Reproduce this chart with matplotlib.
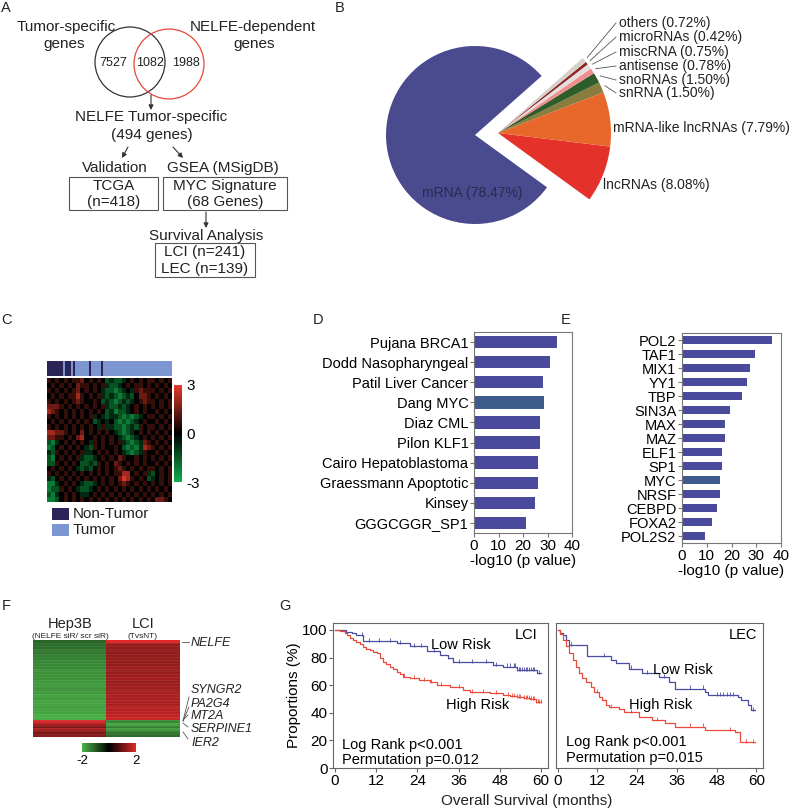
import numpy as np
import matplotlib.pyplot as plt
from matplotlib.colors import LinearSegmentedColormap, ListedColormap
from matplotlib.patches import Circle, Rectangle, Wedge

plt.rcParams['font.family'] = ['Liberation Sans', 'DejaVu Sans']

W, H = 800, 811

# A: gene selection flow
venn_counts = [7527, 1082, 1988]
n_nelfe_tumor = 494
n_tcga = 418
n_myc_genes = 68
n_lci = 241
n_lec = 139

# B: RNA classes, counter-clockwise from the lower edge of the cut-out
rna_names = ["lncRNAs", "mRNA-like lncRNAs", "snRNA", "snoRNAs", "antisense",
             "miscRNA", "microRNAs", "others", "mRNA"]
rna_pct = [8.08, 7.79, 1.50, 1.50, 0.78, 0.75, 0.42, 0.72, 78.47]
rna_colors = ["#e4322b", "#e8682c", "#8a7c3c", "#2f5c2b", "#f08d8d",
              "#e4dede", "#8c2222", "#d6d0cb", "#4a4a8e"]

# C: expression heatmap, digits 0..8 -> -3..3
heat_rows = [
    "54545 45564 54542 32234 54545 54545",
    "45454 54655 45453 22345 45545 45454",
    "54545 45645 45432 21234 35655 54545",
    "45454 55754 54532 32123 24665 45454",
    "54545 45654 45423 21232 34565 54545",
    "66654 54545 45453 22323 45454 54545",
    "76545 45454 54542 31223 45454 45454",
    "54545 45454 53432 33212 12345 54545",
    "45454 54545 42343 42121 23454 45454",
    "54545 45454 54353 32212 32545 54545",
    "77665 45464 54545 43212 34545 45454",
    "66554 54674 45454 54321 23454 54545",
    "21345 45454 35454 54532 12365 45454",
    "12454 54543 25454 45421 21376 54545",
    "32545 45453 34545 45432 12354 45454",
    "21454 54532 23454 54654 45454 54545",
    "22545 45422 32545 46545 45454 45454",
    "45454 54323 24545 45654 54545 54545",
    "54545 45454 54545 45577 45453 24545",
    "32454 54545 45454 54687 54542 34545",
    "11345 45432 23454 54565 45454 54545",
    "12254 54322 34545 45454 54545 45454",
    "21345 45433 45454 54545 45454 54545",
    "11245 45454 54545 45454 54545 46654",
]
sample_groups = "NNNNNNNNTNNNTN" + "T" * 7 + "N" + "T" * 5 + "N" + "T" * 34

# D: GSEA gene sets
gsea_sets = ["Pujana BRCA1", "Dodd Nasopharyngeal", "Patil Liver Cancer", "Dang MYC",
             "Diaz CML", "Pilon KLF1", "Cairo Hepatoblastoma", "Graessmann Apoptotic",
             "Kinsey", "GGGCGGR_SP1"]
gsea_vals = [34, 31, 28.2, 28.5, 27, 27, 26, 26, 25, 21.2]

# E: transcription factors
tf_names = ["POL2", "TAF1", "MIX1", "YY1", "TBP", "SIN3A", "MAX", "MAZ", "ELF1",
            "SP1", "MYC", "NRSF", "CEBPD", "FOXA2", "POL2S2"]
tf_vals = [36.3, 29.4, 27.4, 26.3, 24.2, 19.2, 17.2, 17.2, 16.2, 16.2, 15.3, 15.3,
           14.2, 12.2, 9.2]

# F: fold-change heatmap
hep3b_vals = [-1.1, -1.2, -1.2, -1.3, -1.3, -1.4, -1.4, -1.5, -1.5, -1.5,
              -1.6, -1.6, -1.6, -1.6, -1.7, -1.7, -1.7, -1.6, -1.7, -1.8,
              -1.7, -1.8, -1.8, -1.7, -1.8, -1.8, -1.9, -1.9,
              1.9, 1.5, 1.1, 1.5, 1.1, 1.2]
lci_fc_vals = [2.1, 1.35, 1.3, 1.3, 1.3, 1.3, 1.35, 1.35, 1.3, 1.4,
               1.4, 1.35, 1.4, 1.45, 1.4, 1.4, 1.45, 1.4, 1.5, 1.5,
               1.5, 1.55, 1.5, 1.6, 1.6, 1.65, 1.7, 1.8,
               -1.5, -1.8, -1.4, -1.7, -1.3, -1.2]

# G: Kaplan-Meier curves (event times, survival after event)
lci_low_t = [0, 3.4, 5, 6.3, 8.3, 18, 22, 26.7, 30.6, 33, 34.5, 46, 49, 53, 58.8]
lci_low_s = [100, 98.8, 97.5, 96, 92, 90.5, 88, 84.5, 82, 79.5, 76.5, 74.5, 73.5, 71, 68.5]
lci_low_cens = [8, 10, 13, 16, 19, 23, 25, 29, 33, 36, 40, 44, 47, 50, 51, 52, 52.5, 53,
                53.5, 54, 54.5, 55, 55.5, 56, 56.5, 57, 57.5, 58, 59.5]
lci_high_t = [0, 1.5, 2.9, 3.6, 4.4, 5.3, 6.3, 7.3, 8.3, 9.2, 10.2, 11.2, 12.2, 13.1,
              14.1, 15, 16, 17, 18, 19, 19.9, 21.9, 24.5, 27.7, 29.6, 33.5, 37.4, 39.4,
              45.2, 49, 51, 53, 55, 56.9, 58.5]
lci_high_s = [100, 99, 97.6, 96, 94, 93, 91.5, 89.5, 87.9, 86.5, 85.5, 84, 83, 80, 77,
              75, 73.4, 71.5, 69.8, 68, 66.2, 65, 64, 62.5, 60.1, 58.9, 56.5, 55.3, 54.1,
              52.9, 52, 51.2, 50.5, 49.8, 48]
lci_high_cens = [20, 23, 26, 28, 31, 36, 40, 43, 47, 50.5, 51.5, 52, 53, 53.5, 54, 55,
                 55.5, 56, 56.5, 57, 57.5, 58, 58.5, 59, 59.5, 60]
lec_low_t = [0, 0.7, 1.5, 2.5, 3.5, 9, 16, 17.5, 21.5, 25.5, 30.5, 33.5, 35.5, 44.5,
             45.5, 54.5, 55.5, 57.5, 58.5]
lec_low_s = [100, 98, 96, 93, 89, 81, 78, 76, 72, 68.5, 66, 62.5, 57.5, 55, 53, 51.5,
             49, 45.5, 42]
lec_low_cens = [4, 14, 22, 27, 32, 40, 44, 48, 49, 50, 51, 52, 53, 59]
lec_high_t = [0, 0.7, 1.5, 2.5, 3.5, 4.5, 5.5, 6.5, 7.5, 8.5, 10, 11, 12.5, 13.5, 14.5,
              15.5, 18.5, 20, 24.5, 28.5, 32.5, 35.5, 44.5, 53.5, 55]
lec_high_s = [100, 97, 93, 88, 83, 78.3, 73.4, 68.6, 65, 62.5, 59, 55.3, 51.7, 49.3,
              45.6, 44, 42.5, 40.8, 37.2, 34.8, 32.4, 30, 27.5, 26, 19]
lec_high_cens = [12, 16, 22, 30, 40, 44, 52, 57, 59]


fig = plt.figure(figsize=(W / 100, H / 100), dpi=100)


def px_axes(x0, y0, x1, y1):
    return fig.add_axes([x0 / W, 1 - y1 / H, (x1 - x0) / W, (y1 - y0) / H])


ov = px_axes(0, 0, W, H)
ov.set_xlim(0, W)
ov.set_ylim(H, 0)
ov.axis('off')
ov.set_zorder(10)


def txt(x, y, s, size=11, **kw):
    kw.setdefault('ha', 'center')
    kw.setdefault('va', 'center')
    ov.text(x, y, s, fontsize=size, color=kw.pop('color', '#222222'), **kw)


def arrow(x0, y0, x1, y1):
    ov.annotate('', xy=(x1, y1), xytext=(x0, y0),
                arrowprops=dict(arrowstyle='-|>', color='#333333', lw=0.8,
                                mutation_scale=7, shrinkA=0, shrinkB=0))


# panel letters
for letter, x, y in [("A", 6, 8), ("B", 340, 8), ("C", 6, 320), ("D", 318, 320),
                     ("E", 566, 320), ("F", 6, 606), ("G", 285, 606)]:
    txt(x, y, letter, size=10.5)

# ---- A
ov.add_patch(Circle((130, 62), 35, fill=False, ec='#333333', lw=0.9))
ov.add_patch(Circle((169, 64), 35, fill=False, ec='#e8473a', lw=0.9))
for x, n in zip([113, 150, 186], venn_counts):
    txt(x, 63, str(n), size=9)
txt(66, 27, "Tumor-specific")
txt(64, 44, "genes")
txt(253, 27, "NELFE-dependent")
txt(254, 44, "genes")
arrow(151, 95, 151, 110)
txt(151, 117, "NELFE Tumor-specific")
txt(152, 135, f"({n_nelfe_tumor} genes)")
arrow(128, 147, 122, 158)
arrow(173, 147, 183, 158)
txt(115, 168, "Validation")
txt(223, 168, "GSEA (MSigDB)")
for x0, x1, l1, l2 in [(69, 158, "TCGA", f"(n={n_tcga})"),
                       (163, 287, "MYC Signature", f"({n_myc_genes} Genes)")]:
    ov.add_patch(Rectangle((x0, 177), x1 - x0, 33, fill=False, ec='#555555', lw=0.8))
    txt((x0 + x1) / 2, 186, l1)
    txt((x0 + x1) / 2, 202, l2)
arrow(206, 212, 206, 228)
txt(206, 236, "Survival Analysis")
ov.add_patch(Rectangle((155, 243), 100, 34, fill=False, ec='#555555', lw=0.8))
txt(205, 252, f"LCI (n={n_lci})")
txt(205, 269, f"LEC (n={n_lec})")

# ---- B: pie drawn slice by slice, mRNA pulled apart and smaller
bx = px_axes(340, 0, 800, 250)
bx.set_xlim(340, 800)
bx.set_ylim(-250, 0)
bx.axis('off')
frac = np.array(rna_pct) / np.sum(rna_pct)
edges = -36 + 360 * np.concatenate([[0], np.cumsum(frac)])
mid_angles = {}
for i, (name, col) in enumerate(zip(rna_names, rna_colors)):
    if name == "mRNA":
        ctr, rad = (475, -135), 89
    else:
        ctr, rad = (498, -133), 113
    bx.add_patch(Wedge(ctr, rad, edges[i], edges[i + 1], facecolor=col, lw=0))
    mid_angles[name] = np.deg2rad((edges[i] + edges[i + 1]) / 2)
label_y = {"snRNA": 93, "snoRNAs": 80, "antisense": 66, "miscRNA": 52,
           "microRNAs": 37, "others": 23}
for name, pct in zip(rna_names, rna_pct):
    if name in label_y:
        a = mid_angles[name]
        ex, ey = 498 + 117 * np.cos(a), -133 + 117 * np.sin(a)
        ly = -label_y[name]
        bx.plot([ex, 616], [ey, ly], color='#555555', lw=0.6)
        bx.text(619, ly, f"{name} ({pct:.2f}%)", fontsize=10, va='center', color='#222222')
bx.text(613, -128, f"{rna_names[1]} ({rna_pct[1]:.2f}%)", fontsize=10, va='center', color='#222222')
bx.text(603, -185, f"{rna_names[0]} ({rna_pct[0]:.2f}%)", fontsize=10, va='center', color='#222222')
bx.text(472, -193, f"{rna_names[-1]} ({rna_pct[-1]:.2f}%)", fontsize=10, ha='center',
        va='center', color='#2a2a50')

# ---- C
cmap_c = LinearSegmentedColormap.from_list('gkr', ['#10b04c', '#000000', '#e63a2a'])
M = np.array([[(int(ch) - 4) * 0.7 for ch in r.replace(' ', '')] for r in heat_rows])
hx = px_axes(47, 378, 172, 502)
im = hx.imshow(M, cmap=cmap_c, vmin=-3, vmax=3, aspect='auto', interpolation='nearest')
hx.set_axis_off()
grp_colors = ['#2b2456', '#7b96d0']
ann = np.array([[0 if g == 'N' else 1 for g in sample_groups]])
ax_ann = px_axes(47, 361, 172, 376)
ax_ann.imshow(ann, cmap=ListedColormap(grp_colors), vmin=0, vmax=1, aspect='auto',
              interpolation='nearest')
ax_ann.set_axis_off()
cb_ax = px_axes(174, 385, 182, 482)
cb = fig.colorbar(im, cax=cb_ax, ticks=[-3, 0, 3])
cb.outline.set_visible(False)
cb.set_ticklabels(['-3', '0', '3'])
cb_ax.tick_params(length=0, labelsize=11, pad=3)
for i, (lab, col) in enumerate(zip(["Non-Tumor", "Tumor"], grp_colors)):
    ov.add_patch(Rectangle((52, 508 + 16 * i), 17, 12, color=col, lw=0))
    txt(73, 514 + 16 * i, lab, ha='left')


# ---- D / E
def bar_panel(rect, names, vals, highlight, height):
    ax = px_axes(*rect)
    y = np.arange(len(names))
    cols = ['#3f5b8c' if n == highlight else '#4a4a9c' for n in names]
    ax.barh(y, vals, height=height, color=cols)
    ax.set_yticks(y, names)
    ax.set_ylim(len(names) - 0.5, -0.5)
    ax.set_xlim(0, 40)
    ax.set_xticks([0, 10, 20, 30, 40])
    ax.tick_params(axis='x', labelsize=11, length=3, pad=1, color='#777777')
    ax.tick_params(axis='y', labelsize=10.5, length=3, pad=1, color='#777777')
    for sp in ax.spines.values():
        sp.set_color('#777777')
        sp.set_linewidth(0.8)
    ax.set_xlabel('-log10 (p value)', fontsize=11, labelpad=1)
    return ax


bar_panel((474, 332, 572, 533), gsea_sets, gsea_vals, "Dang MYC", 0.62)
bar_panel((682, 333, 781, 543), tf_names, tf_vals, "MYC", 0.64)

# ---- F
cmap_f = LinearSegmentedColormap.from_list('gkr2', ['#4cb648', '#000000', '#e02a2a'])
fx = px_axes(33, 640, 180, 737)
imf = fx.imshow(np.column_stack([hep3b_vals, lci_fc_vals]), cmap=cmap_f, vmin=-2, vmax=2,
                aspect='auto', interpolation='nearest')
fx.hlines(np.arange(len(hep3b_vals) - 1) + 0.5, -0.5, 1.5, color='white', lw=0.4, alpha=0.12)
fx.set_axis_off()
fcb_ax = px_axes(82, 743, 136, 752)
fcb = fig.colorbar(imf, cax=fcb_ax, orientation='horizontal', ticks=[-2, 2])
fcb.outline.set_visible(False)
fcb.set_ticklabels(['-2', '2'])
fcb_ax.tick_params(length=0, labelsize=9.5, pad=2)
txt(70, 624, "Hep3B", size=10.5)
txt(70, 636, "(NELFE siR/ scr siR)", size=6)
txt(143, 624, "LCI", size=10.5)
txt(143, 636, "(TvsNT)", size=6)
gene_labels = [("NELFE", 643, (182, 642), (189, 642)),
               ("SYNGR2", 690, (183, 721), (189, 697)),
               ("PA2G4", 704, (183, 721), (189, 707)),
               ("MT2A", 716, (183, 720), (188, 715)),
               ("SERPINE1", 729, (183, 723), (188, 727)),
               ("IER2", 743, (183, 732), (188, 739))]
for g, y, p0, p1 in gene_labels:
    ov.plot([p0[0], p1[0]], [p0[1], p1[1]], color='#555555', lw=0.6)
    txt(191, y, g, size=9, ha='left', style='italic')

# ---- G
blue, red = '#4b4ba3', '#ea4a3c'


def km(ax, t, s, t_end, cens, color):
    ax.step(list(t) + [t_end], list(s) + [s[-1]], where='post', color=color, lw=0.9)
    idx = np.searchsorted(t, cens, side='right') - 1
    ax.plot(cens, np.array(s)[idx] + 0.8, ls='none', marker='|', ms=3, mew=0.6, color=color)


g1 = px_axes(333, 623, 548, 768)
g2 = px_axes(556, 623, 763, 768)
km(g1, lci_low_t, lci_low_s, 60, lci_low_cens, blue)
km(g1, lci_high_t, lci_high_s, 60, lci_high_cens, red)
km(g2, lec_low_t, lec_low_s, 59.5, lec_low_cens, blue)
km(g2, lec_high_t, lec_high_s, 59.5, lec_high_cens, red)
for ax in (g1, g2):
    ax.set_xlim(-0.5, 62)
    ax.set_ylim(0, 105)
    ax.set_xticks(range(0, 61, 12))
    ax.tick_params(labelsize=11, length=3, pad=1, color='#666666')
    for sp in ax.spines.values():
        sp.set_color('#666666')
        sp.set_linewidth(0.8)
g1.set_yticks(range(0, 101, 20))
g1.set_ylabel('Proportions (%)', fontsize=11, labelpad=1)
g2.tick_params(left=False, labelleft=False)
g1.text(59, 96, "LCI", fontsize=10.5, ha='right', va='center')
g2.text(60.3, 96, "LEC", fontsize=10.5, ha='right', va='center')
g1.text(36.8, 89, "Low Risk", fontsize=10.5, ha='center', va='center')
g1.text(41.4, 45.6, "High Risk", fontsize=10.5, ha='center', va='center')
g2.text(37.8, 71, "Low Risk", fontsize=10.5, ha='center', va='center')
g2.text(31.2, 45.6, "High Risk", fontsize=10.5, ha='center', va='center')
g1.text(2, 17, "Log Rank p<0.001", fontsize=10.5, va='center')
g1.text(2, 6, "Permutation p=0.012", fontsize=10.5, va='center')
g2.text(2.5, 19, "Log Rank p<0.001", fontsize=10.5, va='center')
g2.text(2.5, 7.5, "Permutation p=0.015", fontsize=10.5, va='center')
txt(527, 801, "Overall Survival (months)")

fig.savefig('out.png', dpi=100)
